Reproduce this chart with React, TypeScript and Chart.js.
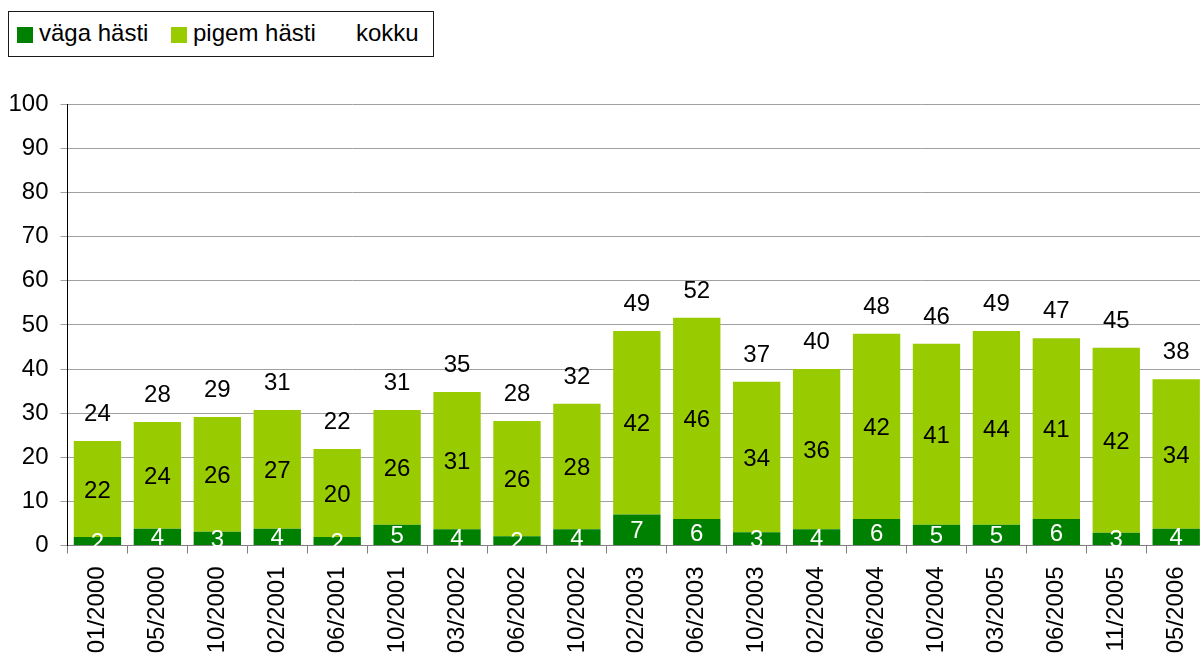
import React, { useEffect, useRef } from "react";
import { Chart, registerables } from "chart.js";

Chart.register(...registerables);

const categories = [
  "01/2000", "05/2000", "10/2000", "02/2001", "06/2001", "10/2001", "03/2002",
  "06/2002", "10/2002", "02/2003", "06/2003", "10/2003", "02/2004", "06/2004",
  "10/2004", "03/2005", "06/2005", "11/2005", "05/2006",
];
const vagaHasti = [1.9, 3.8, 3.1, 3.8, 1.9, 4.7, 3.7, 2.1, 3.7, 7.0, 6.0, 3.0, 3.7, 6.0, 4.7, 4.7, 6.0, 2.9, 3.8];
const pigemHasti = [21.8, 24.2, 26.0, 26.9, 20.0, 26.0, 31.1, 26.1, 28.4, 41.6, 45.6, 34.1, 36.3, 42.0, 41.0, 43.9, 41.0, 41.9, 33.9];
const kokku = [23.7, 28.0, 29.1, 30.7, 21.9, 30.7, 34.8, 28.2, 32.1, 48.6, 51.6, 37.1, 40.0, 48.0, 45.7, 48.6, 47.0, 44.8, 37.7];
const legendLabels = ["väga hästi", "pigem hästi", "kokku"];

const DARK = "#008000";
const LIGHT = "#99CC00";
const FONT = "'Liberation Sans', Arial, Helvetica, sans-serif";
const FS = 24;

const labelPlugin = {
  id: "barLabels",
  afterDatasetsDraw(chart: any) {
    const ctx = chart.ctx;
    ctx.save();
    ctx.font = `${FS}px ${FONT}`;
    ctx.textAlign = "center";
    ctx.textBaseline = "alphabetic";
    const colors = ["#ffffff", "#000000"];
    [0, 1].forEach((di) => {
      const meta = chart.getDatasetMeta(di);
      const data = chart.data.datasets[di].data as number[];
      meta.data.forEach((bar: any, i: number) => {
        const cy = (bar.y + bar.base) / 2;
        ctx.fillStyle = colors[di];
        ctx.fillText(String(Math.round(data[i])), bar.x, cy + FS * 0.358);
      });
    });
    const y = chart.scales.y;
    const meta0 = chart.getDatasetMeta(0);
    ctx.fillStyle = "#000000";
    kokku.forEach((t, i) => {
      const x = meta0.data[i].x;
      ctx.fillText(String(Math.round(t)), x, y.getPixelForValue(t) - 20);
    });
    ctx.restore();
  },
};

export default function App() {
  const ref = useRef<HTMLCanvasElement | null>(null);
  useEffect(() => {
    if (!ref.current) return;
    const chart = new Chart(ref.current, {
      type: "bar",
      data: {
        labels: categories,
        datasets: [
          { label: legendLabels[0], data: vagaHasti, backgroundColor: DARK, borderWidth: 0 },
          { label: legendLabels[1], data: pigemHasti, backgroundColor: LIGHT, borderWidth: 0 },
        ],
      },
      options: {
        animation: false,
        responsive: false,
        devicePixelRatio: 1,
        layout: { padding: { top: 104.3, left: 0, right: 0, bottom: 0 } },
        plugins: { legend: { display: false }, tooltip: { enabled: false } },
        datasets: { bar: { categoryPercentage: 1, barPercentage: 0.79 } },
        scales: {
          x: {
            stacked: true,
            offset: true,
            grid: { display: true, drawOnChartArea: false, offset: true, color: "#808080", tickLength: 8 },
            border: { color: "#808080" },
            ticks: {
              color: "#000",
              font: { family: FONT, size: FS },
              minRotation: 90,
              maxRotation: 90,
              autoSkip: false,
              padding: 13,
            },
            afterFit: (s: any) => { s.height = 109.5; },
          },
          y: {
            stacked: true,
            min: 0,
            max: 100,
            grid: { color: "#a0a0a0", tickColor: "#a0a0a0", tickLength: 7 },
            border: { color: "#000" },
            ticks: {
              stepSize: 10,
              color: "#000",
              font: { family: FONT, size: FS },
              padding: 12,
            },
            afterFit: (s: any) => { s.width = 67.5; },
          },
        },
      },
      plugins: [labelPlugin],
    });
    return () => chart.destroy();
  }, []);

  const text: React.CSSProperties = {
    position: "absolute",
    top: 21,
    fontFamily: FONT,
    fontSize: FS,
    lineHeight: `${FS}px`,
    whiteSpace: "nowrap",
    color: "#000",
  };
  return (
    <div style={{ position: "absolute", left: 0, top: 0, width: 1200, height: 655, overflow: "hidden", background: "#fff" }}>
      <canvas ref={ref} width={1218} height={655} style={{ position: "absolute", left: 0, top: 0, width: 1218, height: 655 }} />
      <div style={{ position: "absolute", left: 8, top: 11, width: 426, height: 46, border: "1px solid #1a1a1a", boxSizing: "border-box", background: "#fff" }} />
      <div style={{ position: "absolute", left: 17, top: 27, width: 16, height: 16, background: DARK }} />
      <span style={{ ...text, left: 39 }}>{legendLabels[0]}</span>
      <div style={{ position: "absolute", left: 171, top: 27, width: 16, height: 16, background: LIGHT }} />
      <span style={{ ...text, left: 193 }}>{legendLabels[1]}</span>
      <span style={{ ...text, left: 356 }}>{legendLabels[2]}</span>
    </div>
  );
}
